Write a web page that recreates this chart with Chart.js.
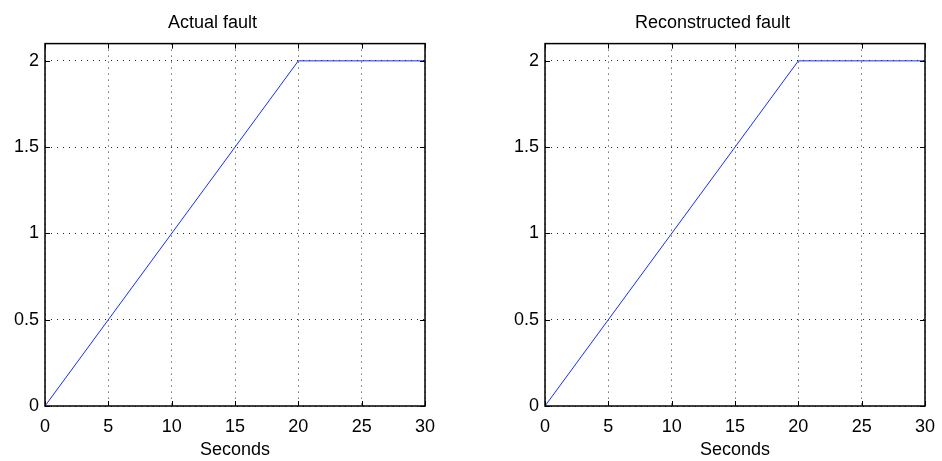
<!DOCTYPE html>
<html>
<head>
<meta charset="utf-8">
<title>Fault reconstruction</title>
<script src="https://cdn.jsdelivr.net/npm/chart.js@4/dist/chart.umd.min.js"></script>
<style>
  html, body { margin: 0; padding: 0; background: #fff; }
  #wrap { position: relative; width: 942px; height: 461px; }
  canvas { position: absolute; top: 0; }
  #chart-actual { left: 0; }
  #chart-reconstructed { left: 471px; }
</style>
</head>
<body>
<div id="wrap">
  <canvas id="chart-actual" width="471" height="461"></canvas>
  <canvas id="chart-reconstructed" width="471" height="461"></canvas>
</div>
<script>
// time axis (seconds) and the two fault signals sampled at the breakpoints
const timeSeconds = [0, 20, 30];
const actualFault = [0, 2, 2];
const reconstructedFault = [0, 2, 2];

const xTicks = [0, 5, 10, 15, 20, 25, 30];
const yTicks = [0, 0.5, 1, 1.5, 2];

const FONT = "'Liberation Sans', Arial, Helvetica, sans-serif";

// frame around the plot area with short inward tick marks on every side
const boxFrame = {
  id: "boxFrame",
  afterDraw(chart) {
    const { ctx, chartArea: a, scales } = chart;
    const len = 5;
    ctx.save();
    ctx.strokeStyle = "#000";
    ctx.lineWidth = 1;
    ctx.beginPath();
    xTicks.forEach((v) => {
      const px = Math.round(scales.x.getPixelForValue(v)) + 0.5;
      ctx.moveTo(px, a.bottom); ctx.lineTo(px, a.bottom - len);
      ctx.moveTo(px, a.top); ctx.lineTo(px, a.top + len);
    });
    yTicks.forEach((v) => {
      const py = Math.round(scales.y.getPixelForValue(v)) + 0.5;
      ctx.moveTo(a.left, py); ctx.lineTo(a.left + len, py);
      ctx.moveTo(a.right, py); ctx.lineTo(a.right - len, py);
    });
    ctx.stroke();
    ctx.lineWidth = 1.5;
    ctx.strokeRect(a.left, a.top, a.right - a.left, a.bottom - a.top);
    ctx.restore();
  }
};

function makeFaultChart(canvasId, title, values, padLeft, padRight) {
  const points = timeSeconds.map((t, i) => ({ x: t, y: values[i] }));
  const gridStyle = { color: "rgba(0,0,0,0.85)", lineWidth: 1, drawTicks: false };
  const borderStyle = { display: false, dash: [1, 5] };
  const tickFont = { family: FONT, size: 18 };

  return new Chart(document.getElementById(canvasId).getContext("2d"), {
    type: "line",
    data: {
      datasets: [{
        data: points,
        borderColor: "#1030ff",
        borderWidth: 1,
        pointRadius: 0,
        tension: 0,
        fill: false
      }]
    },
    plugins: [boxFrame],
    options: {
      responsive: false,
      animation: false,
      layout: { padding: { left: padLeft, right: padRight, top: 0, bottom: 0 } },
      plugins: {
        legend: { display: false },
        tooltip: { enabled: false },
        title: {
          display: true,
          text: title,
          color: "#000",
          font: { family: FONT, size: 18, weight: "normal", lineHeight: 1.2 },
          padding: { top: 12, bottom: 10 }
        }
      },
      scales: {
        x: {
          type: "linear",
          min: 0,
          max: 30,
          // fixed axis height; layout padding alone decides the side margins
          afterFit: (s) => { s.height = 55; s.paddingLeft = 0; s.paddingRight = 0; },
          afterBuildTicks: (s) => { s.ticks = xTicks.map((v) => ({ value: v })); },
          ticks: { color: "#000", font: tickFont, padding: 10, maxRotation: 0, callback: (v) => String(v) },
          grid: gridStyle,
          border: borderStyle,
          title: {
            display: true,
            text: "Seconds",
            color: "#000",
            font: { family: FONT, size: 18, lineHeight: 1.2 },
            padding: { top: 0, bottom: 0 }
          }
        },
        y: {
          type: "linear",
          min: 0,
          max: 2.1,
          afterFit: (s) => { s.width = 45; },
          afterBuildTicks: (s) => { s.ticks = yTicks.map((v) => ({ value: v })); },
          ticks: { color: "#000", font: tickFont, padding: 6, callback: (v) => String(v) },
          grid: gridStyle,
          border: borderStyle
        }
      }
    }
  });
}

makeFaultChart("chart-actual", "Actual fault", actualFault, 0, 46);
makeFaultChart("chart-reconstructed", "Reconstructed fault", reconstructedFault, 29, 17);
</script>
</body>
</html>
